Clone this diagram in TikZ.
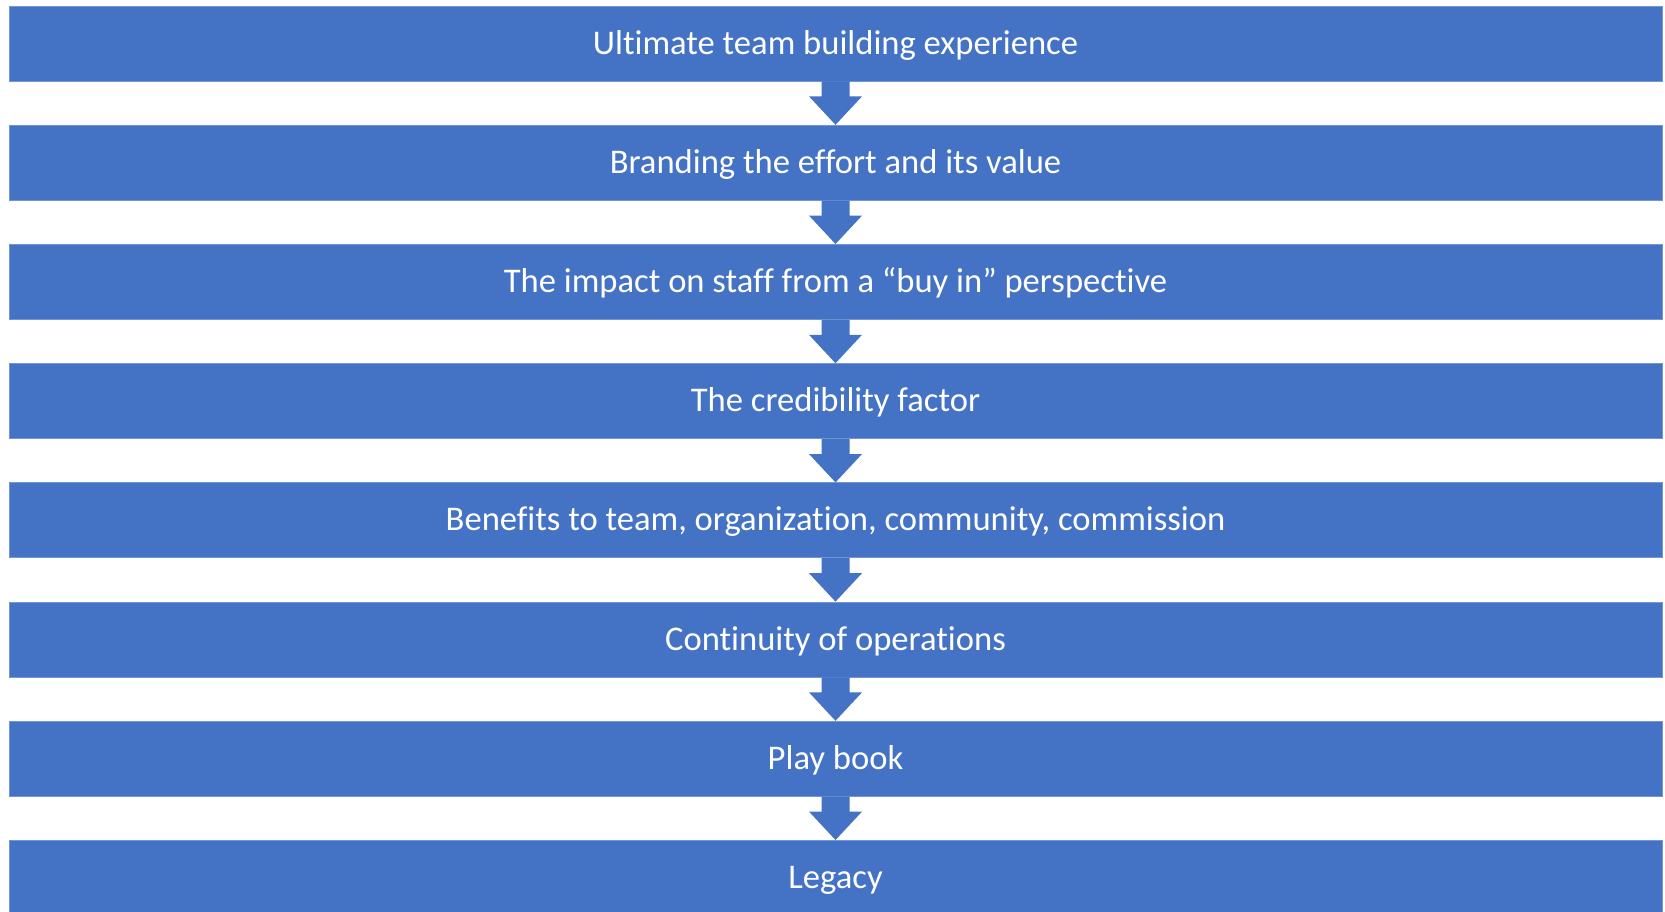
\documentclass[tikz,border=0pt]{standalone}
\usepackage{fontspec}
\setmainfont{Carlito}[Ligatures=NoCommon]
\usepackage{tikz}
\usetikzlibrary{calc}

\definecolor{boxblue}{HTML}{4472C4}
\tikzset{
  stepbox/.style={fill=boxblue, draw=boxblue!75!white, line width=0.4pt,
    minimum width=826.5pt, minimum height=37.5pt, inner sep=0pt,
    text height=12pt, text depth=1.5pt,
    text=white, font=\fontsize{17.3}{21}\selectfont},
  downarrow/.style={fill=boxblue}
}

\begin{document}
\begin{tikzpicture}[x=0.5pt,y=-0.5pt]

% Fix the page size
\useasboundingbox (0,0) rectangle (1665,911);

% Draw the boxes
\foreach \i/\txt in {1/Ultimate team building experience,
                     2/Branding the effort and its value,
                     3/The impact on staff from a “buy in” perspective,
                     4/The credibility factor,
                     5/{Benefits to team, organization, community, commission},
                     6/Continuity of operations,
                     7/Play book,
                     8/Legacy}
  \node[stepbox] (b\i) at (835.5,{43.5+119.2*(\i-1)}) {\txt};

% Draw the block arrows between the boxes
\foreach \i [evaluate=\i as \j using int(\i+1)] in {1,...,7}
  \fill[downarrow] ($(b\i.south)+(-14,0)$) -- ++(0,15) -- ++(-12.5,0)
    -- (b\j.north) -- ($(b\i.south)+(26.5,15)$) -- ++(-12.5,0)
    -- ($(b\i.south)+(14,0)$) -- cycle;

\end{tikzpicture}
\end{document}
